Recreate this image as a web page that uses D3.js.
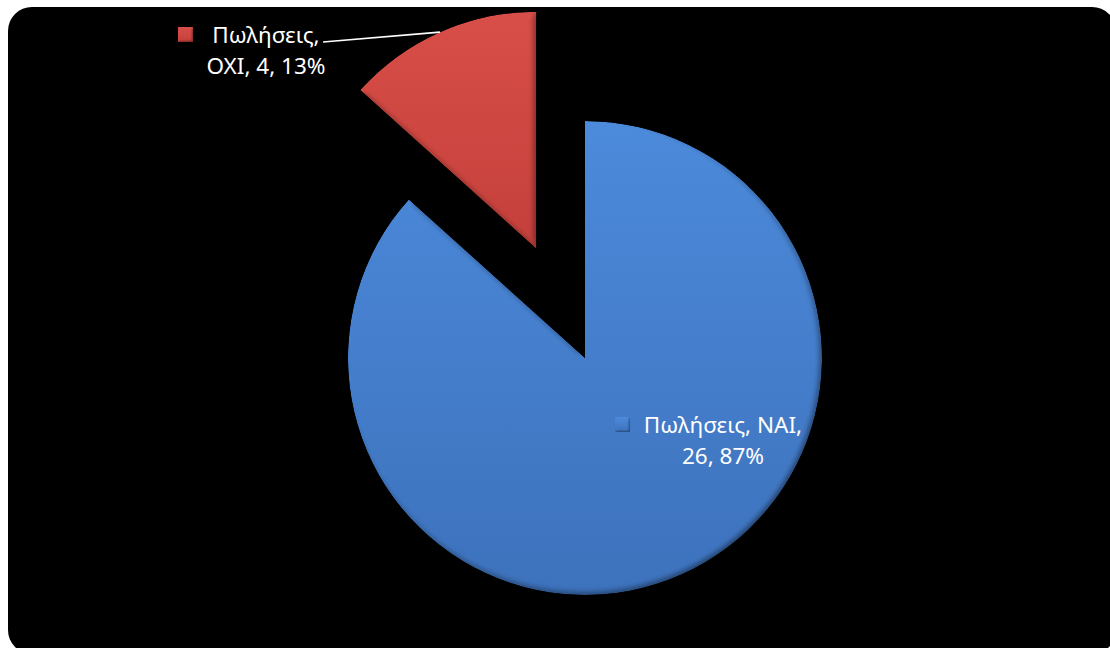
<!DOCTYPE html>
<html>
<head>
<meta charset="utf-8">
<script src="https://cdn.jsdelivr.net/npm/d3@7"></script>
<style>
  html, body { margin: 0; padding: 0; background: #ffffff; }
  svg { display: block; }
</style>
</head>
<body>
<svg id="chart" width="1110" height="648"></svg>
<script>
// Sales answers: "yes" / "no"
const seriesName = "Πωλήσεις";
const categories = ["ΝΑΙ", "ΟΧΙ"];
const values = [26, 4];

// Per-slice appearance
const sliceTop = ["#4c8adb", "#d84e48"];
const sliceBottom = ["#3d72bc", "#c5403b"];
const explodeFrac = [0, 0.505];

const W = 1110, H = 648;
const cx = 585, cy = 358, R = 237;

const svg = d3.select("#chart");
const defs = svg.append("defs");

// Soft bevel: light a blurred alpha map from the upper left and multiply it in
function addBevel(id, blur, scale) {
  const f = defs.append("filter")
    .attr("id", id)
    .attr("x", "-5%").attr("y", "-5%").attr("width", "110%").attr("height", "110%")
    .attr("color-interpolation-filters", "sRGB");
  f.append("feGaussianBlur").attr("in", "SourceAlpha").attr("stdDeviation", blur).attr("result", "b");
  const diff = f.append("feDiffuseLighting")
    .attr("in", "b").attr("surfaceScale", scale).attr("diffuseConstant", 1.08)
    .attr("lighting-color", "#ffffff").attr("result", "light");
  diff.append("feDistantLight").attr("azimuth", 225).attr("elevation", 68);
  f.append("feComposite").attr("in", "SourceGraphic").attr("in2", "light")
    .attr("operator", "arithmetic").attr("k1", 1).attr("k2", 0).attr("k3", 0).attr("k4", 0)
    .attr("result", "lit");
  f.append("feComposite").attr("in", "lit").attr("in2", "SourceAlpha").attr("operator", "in");
}
addBevel("bevel", 3, 2.5);
addBevel("bevelKey", 1, 1);

// Vertical fill gradients, one per slice
categories.forEach((c, i) => {
  const g = defs.append("linearGradient")
    .attr("id", "grad" + i)
    .attr("x1", 0).attr("y1", 0).attr("x2", 0).attr("y2", 1);
  g.append("stop").attr("offset", "0%").attr("stop-color", sliceTop[i]);
  g.append("stop").attr("offset", "100%").attr("stop-color", sliceBottom[i]);
});

// Black rounded panel
svg.append("rect")
  .attr("x", 8).attr("y", 7)
  .attr("width", 1108).attr("height", 647)
  .attr("rx", 24).attr("ry", 24)
  .attr("fill", "#000000");

const data = categories.map((c, i) => ({ category: c, value: values[i], i }));
const total = d3.sum(values);

const pie = d3.pie().sort(null).value(d => d.value);
const arcs = pie(data);
const arc = d3.arc().innerRadius(0).outerRadius(R);

function offsetOf(a) {
  const mid = (a.startAngle + a.endAngle) / 2;
  const off = explodeFrac[a.data.i] * R;
  return [Math.sin(mid) * off, -Math.cos(mid) * off];
}

const pieG = svg.append("g").attr("transform", `translate(${cx},${cy})`);

pieG.selectAll("path.slice")
  .data(arcs)
  .join("path")
  .attr("class", "slice")
  .attr("transform", d => { const [dx, dy] = offsetOf(d); return `translate(${dx},${dy})`; })
  .attr("d", arc)
  .attr("fill", d => `url(#grad${d.data.i})`)
  .attr("filter", "url(#bevel)");

// Data labels: series name, category, value, percentage
const fmtPct = v => Math.round(v / total * 100) + "%";
const labelLayout = [
  { cx: 723, base: 433, lines: d => [`${seriesName}, ${d.category},`, `${d.value}, ${fmtPct(d.value)}`], key: [615, 417] },
  { cx: 266, base: 43, lines: d => [`${seriesName},`, `${d.category}, ${d.value}, ${fmtPct(d.value)}`], key: [178, 27] }
];
const lineGap = 31;

const labelG = svg.append("g").attr("font-family", "'Noto Sans', 'Open Sans', sans-serif")
  .attr("font-size", 22.5).attr("fill", "#ffffff");

arcs.forEach(a => {
  const L = labelLayout[a.data.i];
  const g = labelG.append("g");
  g.append("rect")
    .attr("x", L.key[0]).attr("y", L.key[1])
    .attr("width", 15).attr("height", 15)
    .attr("fill", `url(#grad${a.data.i})`)
    .attr("filter", "url(#bevelKey)");
  L.lines(a.data).forEach((t, k) => {
    g.append("text")
      .attr("x", L.cx).attr("y", L.base + k * lineGap)
      .attr("text-anchor", "middle")
      .text(t);
  });
});

// Leader line from the small slice label to its arc
const small = arcs[1];
const [sdx, sdy] = offsetOf(small);
const midS = (small.startAngle + small.endAngle) / 2;
const edgeX = cx + sdx + Math.sin(midS) * R;
const edgeY = cy + sdy - Math.cos(midS) * R;
svg.append("line")
  .attr("x1", 323).attr("y1", 42)
  .attr("x2", edgeX).attr("y2", edgeY)
  .attr("stroke", "#ffffff").attr("stroke-width", 1.6);
</script>
</body>
</html>
